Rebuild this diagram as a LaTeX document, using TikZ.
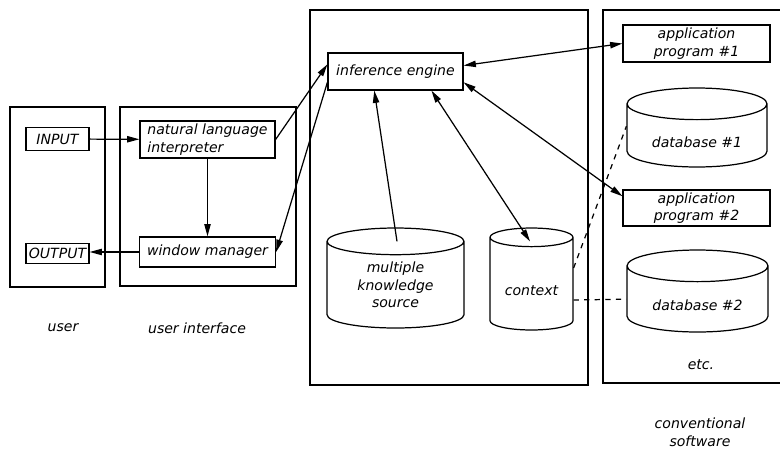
\documentclass[tikz,border=0pt]{standalone}
\usepackage{fontspec}
\setsansfont{DejaVu Sans}
\usetikzlibrary{arrows.meta, positioning, shapes.geometric, calc}

\begin{document}
\begin{tikzpicture}[x=0.02cm,y=-0.02cm,on grid,>={Triangle[length=7pt,width=3.6pt]},
      font=\sffamily\itshape\fontsize{8}{10}\selectfont,
      every node/.style={inner sep=0pt},
      panel/.style={draw,line width=1pt},
      box/.style={draw,line width=0.7pt,align=center},
      db/.style={draw,line width=0.7pt,cylinder,shape border rotate=90,aspect=0.35,align=center,anchor=shape center,
        execute at begin node={\rule{0pt}{13pt}}},
      link/.style={->,line width=0.7pt},
      dblink/.style={<->,line width=0.7pt},
      share/.style={dashed,line width=0.7pt}]
  \useasboundingbox (0,0) rectangle (780,450);

  % panels
  \draw[panel] (10,107) rectangle (105,287);
  \draw[panel] (120,107) rectangle (296,286);
  \draw[panel] (310,10) rectangle (588,385);
  \draw[panel] (780,10) -- (603,10) -- (603,383) -- (780,383);

  % user
  \node[box,minimum width=1.26cm,minimum height=0.46cm] (input) at (57.5,139) {INPUT};
  \node[box,minimum width=1.26cm,minimum height=0.4cm,below=2.29cm of input] (output) {OUTPUT};

  % user interface
  \node[box,align=left,minimum width=2.7cm,minimum height=0.74cm] (nli) at (207.5,139.5) {natural language\\interpreter};
  \node[box,minimum width=2.72cm,minimum height=0.6cm,below=2.25cm of nli] (wm) {window manager};

  % knowledge system
  \node[box,minimum width=2.7cm,minimum height=0.74cm] (ie) at (395.5,71.5) {inference engine};
  \node[db,minimum width=2.74cm,minimum height=2cm] (mks) at (395.5,278) {multiple\\knowledge\\source};
  \node[db,minimum width=1.66cm,minimum height=2.04cm] (ctx) at (531.5,279) {context};

  % conventional software
  \node[box,minimum width=2.94cm,minimum height=0.74cm] (app1) at (696.5,43.5) {application\\program \#1};
  \node[db,minimum width=2.8cm,minimum height=1.58cm] (db1) at (697,127.5) {database \#1};
  \node[box,minimum width=2.94cm,minimum height=0.72cm,below=3.29cm of app1] (app2) {application\\program \#2};
  \node[db,minimum width=2.82cm,minimum height=1.64cm] (db2) at (697.5,291) {database \#2};

  % captions
  \node (user) at (63,328) {user};
  \node (ui) at (197,328) {user interface};
  \node (etc) at (701,365) {etc.};
  \node[align=center] (cs) at (700,432) {conventional\\software};

  % connections
  \draw[link] (input) -- (nli);
  \draw[link] (nli) -- (wm);
  \draw[link] (wm.west) -- (output.east |- wm.west);
  \draw[link] (nli.east) -- (ie.174);
  \draw[link] (ie.189) -- (wm.east);
  \draw[link] ($(mks.north)+(1.5,14)$) -- (ie.222);
  \draw[dblink] (ie.-28) -- ($(ctx.north)+(-1.5,14)$);
  \draw[dblink] (ie.5) -- (app1.west);
  \draw[dblink] (ie.-9) -- (app2.171);
  \draw[share] ($(ctx.east)+(0,-16)$) -- ($(db1.west)+(0,-9.5)$);
  \draw[share] ($(ctx.east)+(0,16)$) -- (db2.west);
\end{tikzpicture}
\end{document}
